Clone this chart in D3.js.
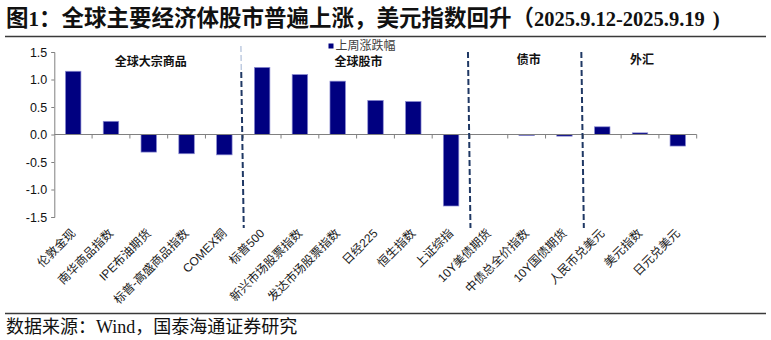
<!DOCTYPE html>
<html>
<head>
<meta charset="utf-8">
<script src="https://cdn.jsdelivr.net/npm/d3@7"></script>
<style>
  html, body { margin: 0; padding: 0; background: #fff; }
  svg { display: block; }
</style>
</head>
<body>
<svg id="chart" width="771" height="340"></svg>
<script>
// Weekly change (%) of global assets, 2025.9.12-2025.9.19
const categories = [
  "伦敦金现", "南华商品指数", "IPE布油期货", "标普-高盛商品指数", "COMEX铜",
  "标普500", "新兴市场股票指数", "发达市场股票指数", "日经225", "恒生指数", "上证综指",
  "10Y美债期货", "中债总全价指数", "10Y国债期货",
  "人民币兑美元", "美元指数", "日元兑美元"
];
const weeklyChange = [
  1.15, 0.24, -0.32, -0.35, -0.37,
  1.22, 1.09, 0.97, 0.62, 0.60, -1.30,
  0.00, -0.02, -0.03,
  0.14, 0.03, -0.21
];
const yTicks = [1.5, 1.0, 0.5, 0.0, -0.5, -1.0, -1.5];
// asset groups: label and index range [start, end) into categories
const groupNames = ["全球大宗商品", "全球股市", "债市", "外汇"];
const groupStarts = [0, 5, 11, 14];
const groupEnds = [5, 11, 14, 17];
const seriesName = "上周涨跌幅";

const svg = d3.select("#chart");
const CJK = '"Noto Sans CJK SC", "Noto Sans CJK TC", sans-serif';
const SERIF = '"Liberation Serif", "Noto Sans CJK SC", serif';
const SANS = '"Liberation Sans", Arial, "Noto Sans CJK SC", sans-serif';

// Title + rule
const title = svg.append("text")
  .attr("x", 6).attr("y", 26)
  .attr("font-family", SERIF).attr("font-weight", "bold")
  .attr("fill", "#111");
title.append("tspan").attr("font-size", 22.5).text("图");
title.append("tspan").attr("font-size", 21).text("1");
title.append("tspan").attr("font-size", 22.5).text("：全球主要经济体股市普遍上涨，美元指数回升（");
title.append("tspan").attr("font-size", 20.5).text("2025.9.12-2025.9.19");
title.append("tspan").attr("font-size", 21).attr("dx", 8).text(")");
svg.append("line").attr("x1", 5).attr("x2", 766).attr("y1", 36.5).attr("y2", 36.5)
  .attr("stroke", "#3a3a3a").attr("stroke-width", 1.5);

// Footer
svg.append("line").attr("x1", 5).attr("x2", 766).attr("y1", 313.5).attr("y2", 313.5)
  .attr("stroke", "#3a3a3a").attr("stroke-width", 1.5);
svg.append("text").attr("x", 6).attr("y", 333)
  .attr("font-family", SERIF).attr("font-size", 18).attr("fill", "#111")
  .text("数据来源：Wind，国泰海通证券研究");

// Scales
const x = d3.scaleBand().domain(categories).range([54.3, 696.7])
  .paddingInner(0.59).paddingOuter(0.295);
const y = d3.scaleLinear().domain([-1.5, 1.5]).range([217, 52]);
const step = x.step();
const x0 = x.range()[0];
const boundary = i => x0 + i * step;

// Bars
svg.append("g").selectAll("rect").data(categories).join("rect")
  .attr("x", d => x(d))
  .attr("width", x.bandwidth())
  .attr("y", (d, i) => y(Math.max(0, weeklyChange[i])))
  .attr("height", (d, i) => Math.abs(y(weeklyChange[i]) - y(0)))
  .attr("fill", "#000080")
  .attr("stroke", "#8c8cd2").attr("stroke-width", 0.7);

// Y axis
const yAxis = svg.append("g").attr("transform", `translate(${x0},0)`)
  .call(d3.axisLeft(y).tickValues(yTicks).tickFormat(d3.format(".1f")).tickSize(3).tickPadding(4));
yAxis.select(".domain").attr("stroke", "#808080");
yAxis.selectAll(".tick line").attr("stroke", "#808080");
yAxis.selectAll(".tick text").attr("font-family", SANS).attr("font-size", 12.5).attr("fill", "#111")
  .text(d => d3.format(".1f")(d).replace("−", "-"));

// X axis at zero with boundary ticks
const xAxis = svg.append("g");
xAxis.append("line").attr("x1", x0).attr("x2", x.range()[1])
  .attr("y1", y(0)).attr("y2", y(0)).attr("stroke", "#808080").attr("stroke-width", 1);
xAxis.selectAll("line.tk").data(d3.range(1, categories.length + 1)).join("line")
  .attr("class", "tk")
  .attr("x1", i => boundary(i)).attr("x2", i => boundary(i))
  .attr("y1", y(0)).attr("y2", y(0) + 4)
  .attr("stroke", "#808080");

// Category labels, rotated
svg.append("g").selectAll("text").data(categories).join("text")
  .attr("transform", d => `translate(${x(d) + x.bandwidth() / 2 + 3},${234}) rotate(-45)`)
  .attr("text-anchor", "end")
  .attr("font-family", SANS).attr("font-size", 12).attr("fill", "#1a1a1a")
  .text(d => d);

// Group separators
const seps = groupStarts.slice(1);
svg.append("g").selectAll("line").data(seps).join("line")
  .attr("x1", i => boundary(i) - 2).attr("x2", i => boundary(i) + 0.5)
  .attr("y1", (i, k) => k === 0 ? 72 : 52).attr("y2", 228)
  .attr("stroke", "#1f3864").attr("stroke-width", 2)
  .attr("stroke-dasharray", "6,3");
svg.append("line")
  .attr("x1", boundary(seps[0]) - 2.3).attr("x2", boundary(seps[0]) - 2)
  .attr("y1", 46).attr("y2", 72)
  .attr("stroke", "#9fb2d2").attr("stroke-width", 1)
  .attr("stroke-dasharray", "6,3");

// Group labels
const groupBaseline = [65.5, 65.5, 63.5, 63.5];
svg.append("g").selectAll("text").data(groupNames).join("text")
  .attr("x", (d, i) => (boundary(groupStarts[i]) + boundary(groupEnds[i])) / 2 + 2)
  .attr("y", (d, i) => groupBaseline[i])
  .attr("text-anchor", "middle")
  .attr("font-family", CJK).attr("font-weight", "bold").attr("font-size", 12).attr("fill", "#111")
  .text(d => d);

// Legend
svg.append("rect").attr("x", 328.5).attr("y", 43.5).attr("width", 5).attr("height", 5)
  .attr("fill", "#000080");
svg.append("text").attr("x", 335.5).attr("y", 50)
  .attr("font-family", CJK).attr("font-size", 12).attr("fill", "#404040")
  .text(seriesName);
</script>
</body>
</html>
